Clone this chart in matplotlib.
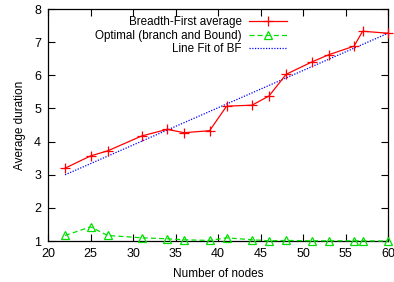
import numpy as np
import matplotlib
matplotlib.use("Agg")
import matplotlib.pyplot as plt

plt.rcParams['font.family'] = ['Liberation Sans', 'DejaVu Sans']

nodes = [22, 25, 27, 31, 34, 36, 39, 41, 44, 46, 48, 51, 53, 56, 57, 60]
bf_avg = [3.2, 3.57, 3.72, 4.17, 4.37, 4.27, 4.33, 5.07, 5.1, 5.38, 6.03, 6.4, 6.62, 6.88, 7.33, 7.27]
optimal = [1.17, 1.43, 1.17, 1.1, 1.07, 1.04, 1.02, 1.1, 1.04, 1.01, 1.02, 1.01, 1.01, 1.01, 1.01, 1.0]
fit_x = [22, 60]
fit_y = [3.0, 7.27]

fig = plt.figure(figsize=(3.94, 2.82), dpi=100)
ax = fig.add_axes([0.122, 0.145, 0.863, 0.823])

ax.plot(nodes, bf_avg, color="red", lw=0.9, marker="+", ms=7, mew=0.9,
        label="Breadth-First average", clip_on=False, zorder=3)
ax.plot(nodes, optimal, color="#00e000", lw=0.9, ls=(0, (4, 2.5)), marker="^",
        ms=5.5, mfc="none", mec="#00e000", mew=0.9,
        label="Optimal (branch and Bound)", clip_on=False, zorder=3)
ax.plot(fit_x, fit_y, color="blue", lw=0.9, ls=(0, (1, 1.2)),
        label="Line Fit of BF")

ax.set_xlim(20, 60)
ax.set_ylim(1, 8)
ax.set_xticks(range(20, 61, 5))
ax.set_yticks(range(1, 9))
ax.tick_params(direction="in", top=True, right=True, length=5, width=0.8,
               labelsize=9, pad=5)
for s in ax.spines.values():
    s.set_linewidth(0.9)
ax.set_xlabel("Number of nodes", fontsize=8.5, labelpad=6)
ax.set_ylabel("Average duration", fontsize=8.5, labelpad=6)

ax.legend(loc="upper right", bbox_to_anchor=(0.703, 0.97), frameon=False,
          markerfirst=False, fontsize=8.4, handlelength=3.3,
          labelspacing=0.15, handletextpad=0.6, borderaxespad=0, borderpad=0)

fig.savefig("out.png", dpi=100)
